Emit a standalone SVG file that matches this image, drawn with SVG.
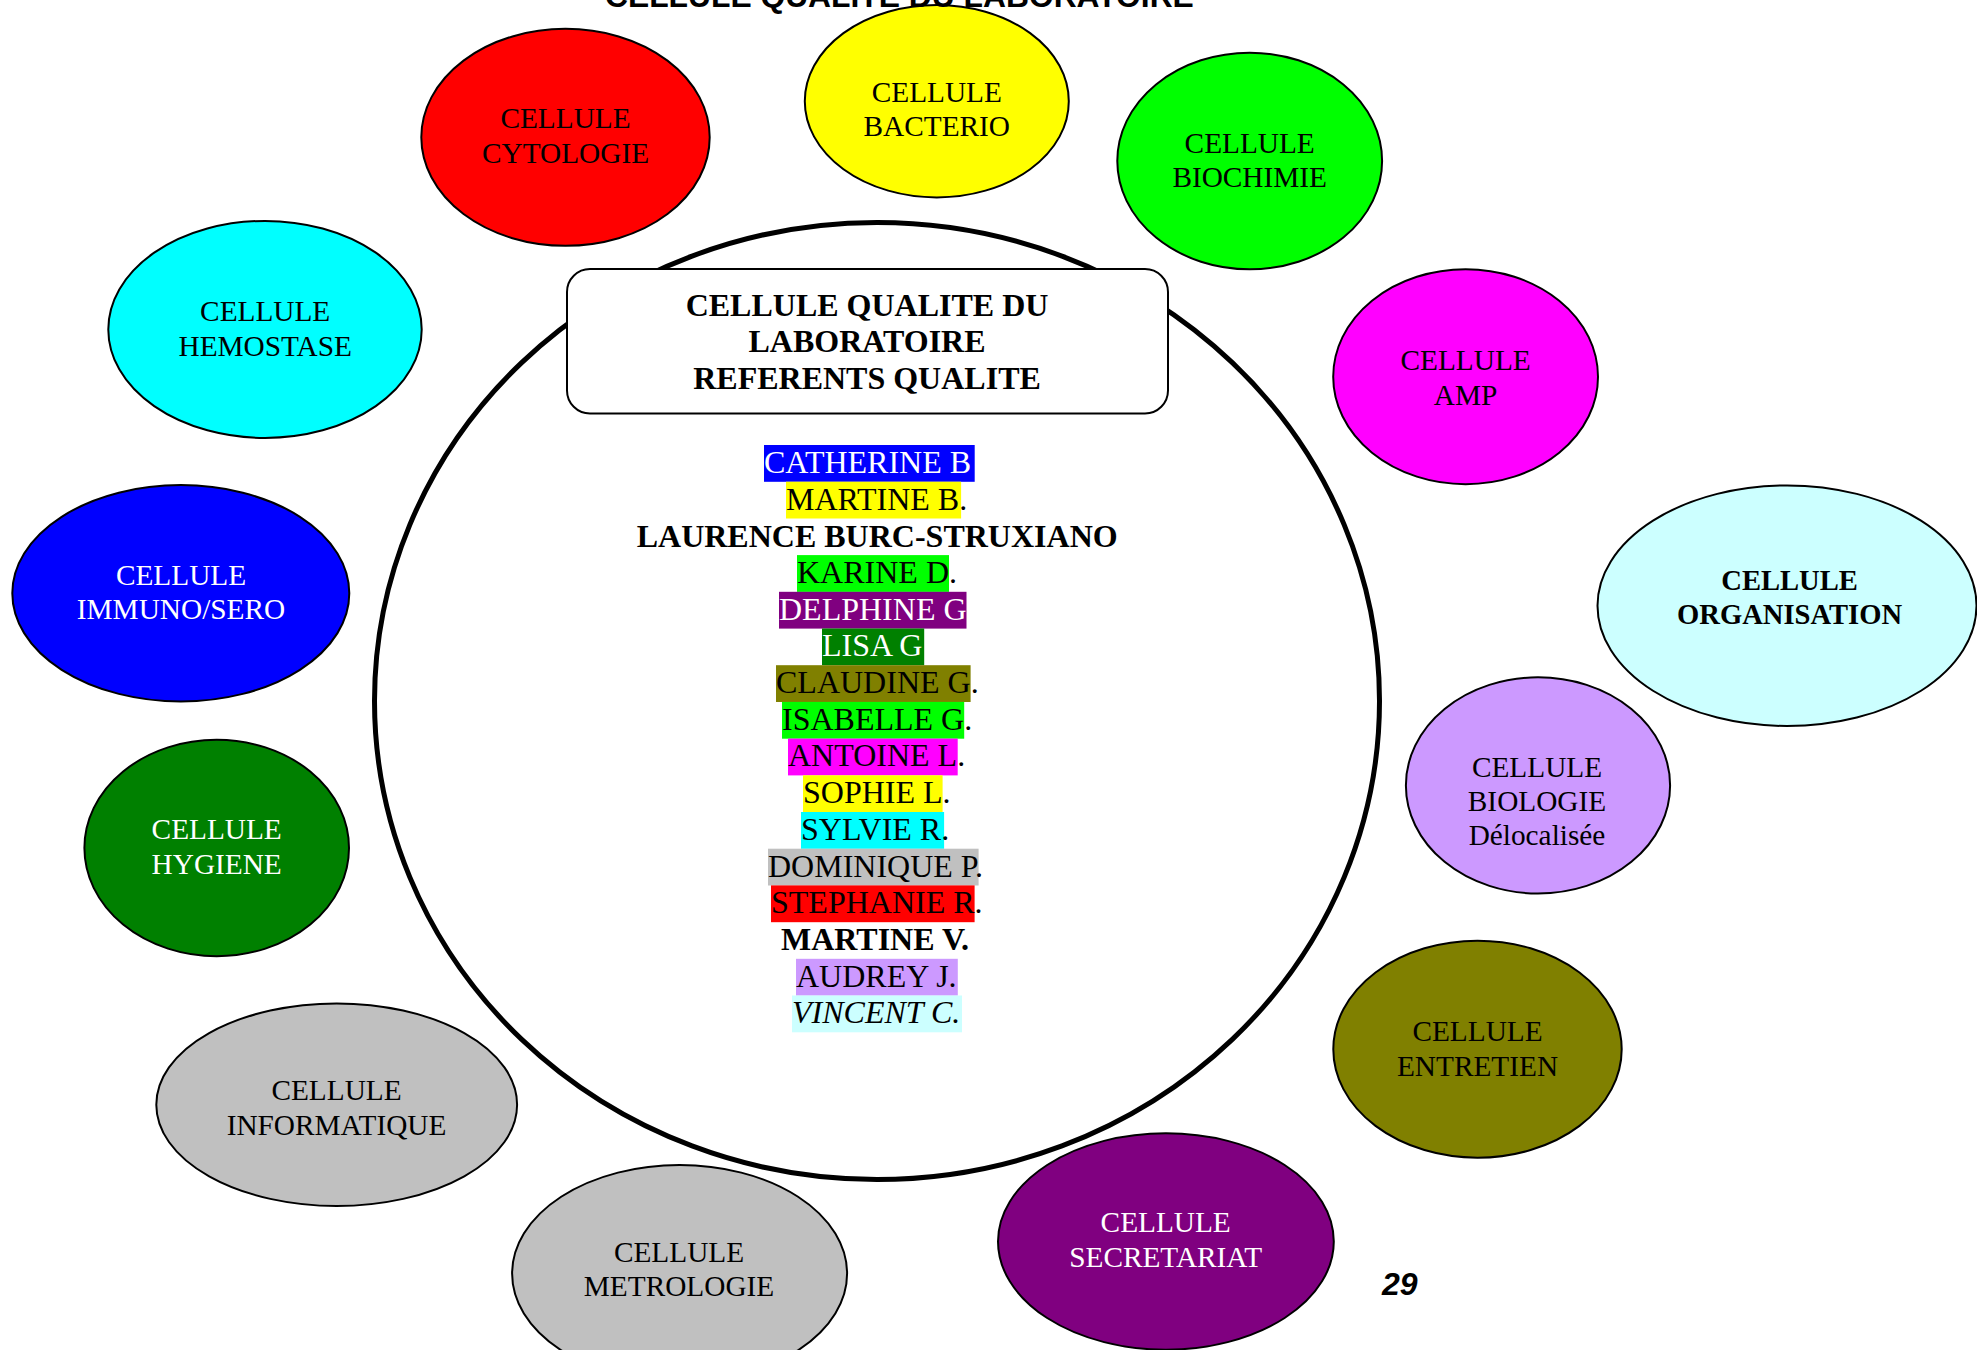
<svg xmlns="http://www.w3.org/2000/svg" width="1977" height="1350" viewBox="0 0 1977 1350">
  <style>
    .cell { stroke: #000; stroke-width: 2; }
    .lbl { font-family: "Liberation Serif", "Times New Roman", serif; font-size: 29.3px; text-anchor: middle; }
    .dark { fill: #000; }
    .light { fill: #fff; }
    .hdr { font-family: "Liberation Serif", "Times New Roman", serif; font-size: 32px; font-weight: bold; text-anchor: middle; fill: #000; }
    .nm { font-family: "Liberation Serif", "Times New Roman", serif; font-size: 32px; fill: #000; }
    .nm.w { fill: #fff; }
    .ttl { font-family: "Liberation Sans", Arial, sans-serif; font-weight: bold; fill: #000; }
  </style>

  <rect width="1977" height="1350" fill="#fff"/>

  <!-- central ring -->
  <g id="ring">
    <ellipse cx="877" cy="701" rx="502.5" ry="478.5" fill="#fff" stroke="#000" stroke-width="5"/>
  </g>

  <g id="connectors"></g>

  <!-- satellite cells -->
  <g id="cell-cytologie">
    <ellipse class="cell" cx="565.5" cy="137.3" rx="144.2" ry="108.5" fill="#FF0000"/>
    <text class="lbl dark" x="565.5" y="128.3">CELLULE<tspan x="565.5" dy="35">CYTOLOGIE</tspan></text>
  </g>
  <g id="cell-bacterio">
    <ellipse class="cell" cx="936.8" cy="101.2" rx="132" ry="96.2" fill="#FFFF00"/>
    <text class="lbl dark" x="936.8" y="101.7">CELLULE<tspan x="936.8" dy="34.5">BACTERIO</tspan></text>
  </g>
  <g id="cell-biochimie">
    <ellipse class="cell" cx="1249.7" cy="161" rx="132.4" ry="108.3" fill="#00FF00"/>
    <text class="lbl dark" x="1249.7" y="152.7">CELLULE<tspan x="1249.7" dy="34.5">BIOCHIMIE</tspan></text>
  </g>
  <g id="cell-amp">
    <ellipse class="cell" cx="1465.6" cy="376.7" rx="132.4" ry="107.5" fill="#FF00FF"/>
    <text class="lbl dark" x="1465.6" y="370">CELLULE<tspan x="1465.6" dy="34.5">AMP</tspan></text>
  </g>
  <g id="cell-organisation">
    <ellipse class="cell" cx="1787" cy="605.7" rx="189.5" ry="120.3" fill="#CCFFFF"/>
    <text class="lbl dark" x="1789.6" y="589.7" font-weight="bold" style="font-size:28.6px">CELLULE<tspan x="1789.6" dy="34.5">ORGANISATION</tspan></text>
  </g>
  <g id="cell-biologie">
    <ellipse class="cell" cx="1538" cy="785.4" rx="132.1" ry="108.1" fill="#CC99FF"/>
    <text class="lbl dark" x="1537" y="777.3">CELLULE<tspan x="1537" dy="33.8">BIOLOGIE</tspan><tspan x="1537" dy="33.6">Délocalisée</tspan></text>
  </g>
  <g id="cell-entretien">
    <ellipse class="cell" cx="1477.5" cy="1049.2" rx="144.2" ry="108.5" fill="#808000"/>
    <text class="lbl dark" x="1477.5" y="1040.7">CELLULE<tspan x="1477.5" dy="35">ENTRETIEN</tspan></text>
  </g>
  <g id="cell-secretariat">
    <ellipse class="cell" cx="1165.9" cy="1241.5" rx="167.9" ry="108.2" fill="#800080"/>
    <text class="lbl light" x="1165.7" y="1232.3">CELLULE<tspan x="1165.7" dy="35">SECRETARIAT</tspan></text>
  </g>
  <g id="cell-metrologie">
    <ellipse class="cell" cx="679.6" cy="1273.5" rx="167.5" ry="108.5" fill="#C0C0C0"/>
    <text class="lbl dark" x="679" y="1261.7">CELLULE<tspan x="679" dy="34.5">METROLOGIE</tspan></text>
  </g>
  <g id="cell-informatique">
    <ellipse class="cell" cx="336.7" cy="1104.7" rx="180.4" ry="101.3" fill="#C0C0C0"/>
    <text class="lbl dark" x="336.5" y="1100">CELLULE<tspan x="336.5" dy="35">INFORMATIQUE</tspan></text>
  </g>
  <g id="cell-hygiene">
    <ellipse class="cell" cx="216.7" cy="848" rx="132.3" ry="108.2" fill="#008000"/>
    <text class="lbl light" x="216.7" y="839.3">CELLULE<tspan x="216.7" dy="34.8">HYGIENE</tspan></text>
  </g>
  <g id="cell-immuno-sero">
    <ellipse class="cell" cx="180.8" cy="593.3" rx="168.5" ry="108.2" fill="#0000FF"/>
    <text class="lbl light" x="181" y="584.6">CELLULE<tspan x="181" dy="34.8">IMMUNO/SERO</tspan></text>
  </g>
  <g id="cell-hemostase">
    <ellipse class="cell" cx="265" cy="329.4" rx="156.7" ry="108.5" fill="#00FFFF"/>
    <text class="lbl dark" x="265.2" y="320.9">CELLULE<tspan x="265.2" dy="34.8">HEMOSTASE</tspan></text>
  </g>

  <!-- heading box inside the ring -->
  <g id="quality-unit">
    <rect x="567" y="269" width="601" height="144.5" rx="23" ry="23" fill="#fff" stroke="#000" stroke-width="2"/>
    <text class="hdr" x="867" y="315.5">CELLULE QUALITE DU<tspan x="867" dy="36.7">LABORATOIRE</tspan><tspan x="867" dy="36.7">REFERENTS QUALITE</tspan></text>
  </g>

  <!-- list of quality referents, highlighted by cell colour -->
  <g id="referents">
    <rect x="764" y="445" width="210.7" height="36.8" fill="#0000FF"/>
    <text class="nm w" x="764" y="472.8">CATHERINE B</text>

    <rect x="786" y="481.7" width="175.1" height="36.8" fill="#FFFF00"/>
    <text class="nm" x="786" y="509.5">MARTINE B.</text>

    <text class="nm" x="636.7" y="546.6" font-weight="bold">LAURENCE BURC-STRUXIANO</text>

    <rect x="797" y="555.1" width="152" height="36.8" fill="#00FF00"/>
    <text class="nm" x="797" y="582.9">KARINE D.</text>

    <rect x="779" y="591.8" width="187.5" height="36.8" fill="#800080"/>
    <text class="nm w" x="779" y="619.6">DELPHINE G</text>

    <rect x="822" y="628.5" width="102.2" height="36.8" fill="#008000"/>
    <text class="nm w" x="822" y="656.3">LISA G</text>

    <rect x="776" y="665.2" width="194.6" height="36.8" fill="#808000"/>
    <text class="nm" x="776" y="693">CLAUDINE G.</text>

    <rect x="782" y="701.9" width="182.2" height="36.8" fill="#00FF00"/>
    <text class="nm" x="782" y="729.7">ISABELLE G.</text>

    <rect x="788" y="738.6" width="169.7" height="36.8" fill="#FF00FF"/>
    <text class="nm" x="788" y="766.4">ANTOINE L.</text>

    <rect x="803" y="775.3" width="139.6" height="36.8" fill="#FFFF00"/>
    <text class="nm" x="803" y="803.1">SOPHIE L.</text>

    <rect x="801" y="812" width="143.1" height="36.8" fill="#00FFFF"/>
    <text class="nm" x="801" y="839.8">SYLVIE R.</text>

    <rect x="768" y="848.7" width="210.6" height="36.8" fill="#C0C0C0"/>
    <text class="nm" x="768" y="876.5">DOMINIQUE P.</text>

    <rect x="771" y="885.4" width="203.6" height="36.8" fill="#FF0000"/>
    <text class="nm" x="771" y="913.2">STEPHANIE R.</text>

    <text class="nm" x="781" y="950.3" font-weight="bold">MARTINE V.</text>

    <rect x="796" y="958.8" width="161.8" height="36.8" fill="#CC99FF"/>
    <text class="nm" x="796" y="986.6">AUDREY J.</text>

    <rect x="792" y="995.5" width="170" height="36.8" fill="#CCFFFF"/>
    <text class="nm" x="792" y="1023.3" font-style="italic">VINCENT C.</text>
  </g>

  <!-- page title (clipped at the top edge) and page number -->
  <text class="ttl" x="899.4" y="6.5" font-size="31.8" text-anchor="middle">CELLULE QUALITE DU LABORATOIRE</text>
  <text class="ttl" x="1382" y="1294.5" font-size="32" font-style="italic">29</text>
</svg>
